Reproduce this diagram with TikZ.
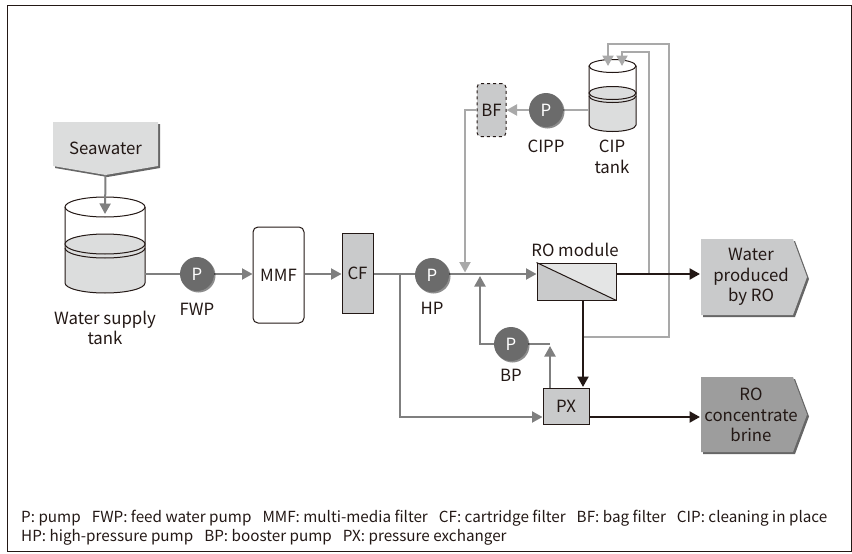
\documentclass[tikz,border=0pt]{standalone}
\usepackage{fontspec}
\setmainfont{Noto Sans CJK SC}
\usetikzlibrary{arrows.meta,shadows,calc}
\definecolor{ink}{HTML}{231815}
\definecolor{midg}{HTML}{7F7F7F}
\definecolor{lightg}{HTML}{A9A9A9}
\definecolor{pumpg}{HTML}{6B6B6B}
\definecolor{waterg}{HTML}{DCDDDD}
\definecolor{boxg}{HTML}{C9CACB}
\definecolor{palebox}{HTML}{E4E5E5}
\definecolor{darkbox}{HTML}{9D9D9D}
\tikzset{
  x=1pt,y=-1pt,
  lbl/.style={font=\fontsize{16.8}{20.5}\selectfont,text=ink,align=center,inner sep=0},
  legend/.style={font=\fontsize{15.25}{19}\selectfont,text=ink,anchor=west,inner sep=0},
  pump/.style={circle,minimum size=34pt,inner sep=0,fill=pumpg,text=white,font=\fontsize{16.8}{18}\selectfont,
    drop shadow={shadow xshift=1.5pt,shadow yshift=-1.5pt,fill=black,opacity=0.45}},
  unit/.style={draw=ink,line width=1pt,inner sep=0,font=\fontsize{16.8}{18}\selectfont,text=ink},
  anchorbox/.style={inner sep=0,minimum width=#1},
  midline/.style={draw=midg,line width=2pt},
  midarrow/.style={midline,-{Triangle[length=10.5pt,width=11pt]}},
  lightline/.style={draw=lightg,line width=2pt},
  lightarrow/.style={lightline,-{Triangle[length=10.5pt,width=11pt]}},
  darkline/.style={draw=ink,line width=2.2pt},
  darkarrow/.style={darkline,-{Triangle[length=10.5pt,width=11pt]}},
  sign/.style={drop shadow={shadow xshift=2pt,shadow yshift=-2pt,fill=black,opacity=0.6}},
}
\newcommand{\tankshape}[5]{%
  \pgfmathsetmacro{\rxv}{(#2-#1)/2}
  \pgfmathsetmacro{\cxv}{(#1+#2)/2}
  \fill[waterg] (#1,#4) -- (#1,#5) arc[start angle=180,end angle=360,x radius=\rxv,y radius=-\tankry] -- (#2,#4) arc[start angle=0,end angle=180,x radius=\rxv,y radius=-\tankry] -- cycle;
  \draw[ink,line width=1pt,fill=white] (\cxv,#3) ellipse[x radius=\rxv,y radius=\tankry];
  \draw[ink,line width=1pt] (#1,#3) -- (#1,#5) arc[start angle=180,end angle=360,x radius=\rxv,y radius=-\tankry] -- (#2,#3);
  \fill[waterg] (\cxv,#4) ellipse[x radius=\rxv,y radius=\tankry];
  \draw[ink,line width=1pt] (\cxv,#4) ellipse[x radius=\rxv,y radius=\tankry];
  \draw[ink,line width=1pt] (#1,#4+\tankgap) arc[start angle=180,end angle=360,x radius=\rxv,y radius=-\tankry];
}
\begin{document}
\begin{tikzpicture}
\useasboundingbox (0,0) rectangle (852,554);
\draw[ink,line width=0.9pt] (7,5.5) rectangle (851,551);

% signs
\path[fill=waterg,sign] (53,122) -- (158,122) -- (158,166) -- (105.5,175) -- (53,166) -- cycle;
\path[fill=boxg,sign] (701,239) -- (793,239) -- (807,277) -- (793,315) -- (701,315) -- cycle;
\path[fill=darkbox,sign] (701,377) -- (793,377) -- (807,414.5) -- (793,452) -- (701,452) -- cycle;
\node[lbl] (sea) at (105.5,148) {Seawater};
\node[lbl] (water) at (751,277) {Water\\produced\\by RO};
\node[lbl] (brine) at (751,415) {RO\\concentrate\\brine};
\coordinate (seatip) at (105.5,175);
\coordinate (waterin) at (700,274);
\coordinate (brinein) at (700,417);

% tanks
\def\tankry{10}\def\tankgap{4}
\tankshape{65}{145}{207}{244}{283}
\def\tankry{6.5}\def\tankgap{3}
\tankshape{589}{636}{66}{93}{125}
\node[anchorbox=80pt,minimum height=1pt] (supply) at (105,274) {};
\node[anchorbox=47pt,minimum height=1pt] (ciptank) at (612.5,110) {};
\coordinate (supplyin) at (105,214);
\coordinate (cipin1) at (608,66);
\coordinate (cipin2) at (622,66);

% units
\node[unit,rounded corners=5pt,minimum width=51pt,minimum height=96pt] (mmf) at (278.5,275) {MMF};
\node[unit,fill=boxg,minimum width=31pt,minimum height=80pt] (cf) at (357.5,273) {CF};
\node[unit,fill=boxg,dashed,rounded corners=4pt,minimum width=29pt,minimum height=53pt] (bf) at (491.5,110) {BF};
\node[unit,fill=boxg,minimum width=46pt,minimum height=36pt] (px) at (566,406) {PX};
\coordinate (pxup) at (550,388);
\coordinate (bpout) at (550,344);
\coordinate (bpin) at (550,346);

% RO module
\fill[boxg] (537,263) -- (616,300) -- (537,300) -- cycle;
\fill[palebox] (537,263) -- (616,263) -- (616,300) -- cycle;
\node[draw=ink,line width=1pt,inner sep=0,minimum width=79pt,minimum height=37pt] (ro) at (576.5,281.5) {};
\draw[ink,line width=1pt] (ro.north west) -- (ro.south east);

% labels
\node[lbl] at (105,328) {Water supply\\tank};
\node[lbl] at (197,309) {FWP};
\node[lbl] at (432,308) {HP};
\node[lbl] at (511,375) {BP};
\node[lbl] at (546,146) {CIPP};
\node[lbl] at (612,157) {CIP\\tank};
\node[lbl] at (575,250) {RO module};

% helper points
\coordinate (hpjoin) at (400,274);
\coordinate (bfjoin) at (465,272.5);
\coordinate (bpjoin) at (480,276);
\coordinate (roout) at (616,274);
\coordinate (j1) at (649,274);
\coordinate (j2) at (583,337);
\coordinate (roin) at (ro.west|-hpjoin);
\coordinate (fwpc) at (197,274);
\coordinate (hpc) at (432,274);
\coordinate (bpc) at (511,344);
\coordinate (cippc) at (546,110);
\coordinate (supplyout) at (145,274);
\coordinate (rodown) at (583,300);
\coordinate (pxin) at (583,387);

% grey connectors
\draw[midarrow] (seatip) -- (supplyin);
\draw[midline] (supplyout) -- (fwpc);
\draw[midarrow] (fwpc) -- (mmf.west|-fwpc);
\draw[midarrow] (mmf.east|-fwpc) -- (cf.west|-fwpc);
\draw[midline] (cf.east|-hpjoin) -- (hpc);
\draw[midarrow] (hpc) -- (roin);
\draw[midarrow] (hpjoin) |- (px.west|-brinein);
\draw[midarrow] (bpc) -| (bpjoin);
\draw[midline] (bpc) -- (bpout);
\draw[midarrow] (pxup) -- (bpin);

% light connectors
\draw[lightline] (ciptank.west) -- (cippc);
\draw[lightarrow] (cippc) -- (bf.east);
\draw[lightarrow] (bf.west) -| (bfjoin);
\draw[lightarrow] (j1) -- (649,52) -- (622,52) -- (cipin2);
\draw[lightarrow] (j2) -- (669,337) -- (669,44) -- (608,44) -- (cipin1);

% dark connectors
\draw[darkarrow] (rodown) -- (pxin);
\draw[darkarrow] (roout) -- (waterin);
\draw[darkarrow] (px.east|-brinein) -- (brinein);

% pumps on top of lines
\node[pump] (fwp) at (fwpc) {P};
\node[pump] (hp) at (432,275) {P};
\node[pump] (bp) at (bpc) {P};
\node[pump] (cipp) at (cippc) {P};

% legend
\node[legend] at (21,518) {P: pump\hspace{11pt}FWP: feed water pump\hspace{11pt}MMF: multi-media filter\hspace{11pt}CF: cartridge filter\hspace{11pt}BF: bag filter\hspace{11pt}CIP: cleaning in place};
\node[legend] at (21,537) {HP: high-pressure pump\hspace{11pt}BP: booster pump\hspace{11pt}PX: pressure exchanger};
\end{tikzpicture}
\end{document}
